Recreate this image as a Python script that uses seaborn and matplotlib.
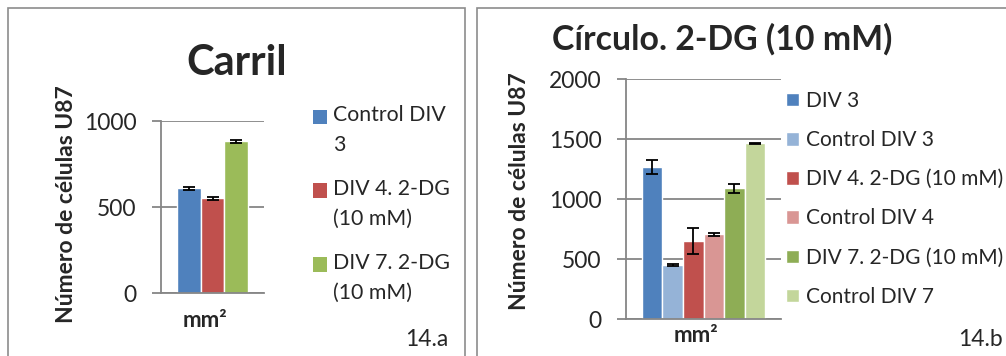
import matplotlib
matplotlib.use("Agg")
import matplotlib.pyplot as plt
from matplotlib.patches import Rectangle
from matplotlib.legend_handler import HandlerPatch
from matplotlib.transforms import ScaledTranslation
import seaborn as sns
import pandas as pd

# ---- data ----
category = ["mm²"]
left_series = ["Control DIV\n3", "DIV 4. 2-DG\n(10 mM)", "DIV 7. 2-DG\n(10 mM)"]
left_values = [609, 551, 882]
left_errors = [8, 9, 8]
left_colors = ["#4F81BD", "#C0504D", "#9BBB59"]

right_series = ["DIV 3", "Control DIV 3", "DIV 4. 2-DG (10 mM)", "Control DIV 4",
                "DIV 7. 2-DG (10 mM)", "Control DIV 7"]
right_values = [1269, 452, 652, 708, 1092, 1467]
right_errors = [56, 5, 110, 10, 38, 3]
right_colors = ["#4F81BD", "#95B3D7", "#C0504D", "#D99694", "#8EAD55", "#C3D69B"]

left_yticks = [0, 500, 1000]
right_yticks = [0, 500, 1000, 1500, 2000]

sns.set_theme(style="white")
plt.rcParams["font.family"] = ["Lato", "DejaVu Sans"]

W, H = 1006, 356
fig = plt.figure(figsize=(W / 100, H / 100), dpi=100)
fig.patch.set_facecolor("white")

GRAY = "#868686"


def px_axes(x0, x1, ytop, ybot):
    return fig.add_axes([x0 / W, (H - ybot) / H, (x1 - x0) / W, (ybot - ytop) / H])


def draw_panel(ax, series, values, errors, colors, yticks, width, ymax, xpad):
    df = pd.DataFrame({"cat": category * len(series), "val": values, "series": series})
    sns.barplot(data=df, x="cat", y="val", hue="series", hue_order=series,
                palette=colors, saturation=1, width=width, gap=0,
                errorbar=None, ax=ax, legend=False)
    bars = ax.patches[:len(series)]
    xs = [b.get_x() + b.get_width() / 2 for b in bars]
    hs = [b.get_height() for b in bars]
    ax.errorbar(xs, hs, yerr=errors, fmt="none", ecolor="black",
                elinewidth=1.3, capsize=4.6, capthick=1.3, zorder=5)
    ax.set_ylim(0, ymax)
    ax.set_xlim(-0.5, 0.5)
    ax.set_yticks(yticks)
    ax.yaxis.grid(True, color=GRAY, linewidth=1.3)
    ax.set_axisbelow(True)
    for s in ["top", "right"]:
        ax.spines[s].set_visible(False)
    for s in ["left", "bottom"]:
        ax.spines[s].set_color(GRAY)
        ax.spines[s].set_linewidth(1.3)
    ax.tick_params(axis="y", direction="out", length=6.5, width=1.3, color=GRAY,
                   labelsize=16.5, pad=11, left=True)
    ax.tick_params(axis="x", length=0, labelsize=16, pad=xpad)
    shift = ScaledTranslation(-8 / 100, 0, fig.dpi_scale_trans)
    for t in ax.get_xticklabels():
        t.set_fontweight("bold")
        t.set_transform(t.get_transform() + shift)
    ax.set_xlabel("")
    ax.set_facecolor("none")
    return bars


class TopHandler(HandlerPatch):
    """Square legend key aligned with the first line of a two-line label."""

    def __init__(self, shift, **kw):
        super().__init__(**kw)
        self.shift = shift

    def create_artists(self, legend, orig_handle, xdescent, ydescent, width,
                       height, fontsize, trans):
        p = Rectangle((-xdescent, -ydescent + self.shift), width, height,
                      facecolor=orig_handle.get_facecolor(), edgecolor="none")
        p.set_transform(trans)
        return [p]


# ---------- left panel ----------
axL = px_axes(161, 264, 121, 293)
barsL = draw_panel(axL, left_series, left_values, left_errors, left_colors,
                   left_yticks, 0.68, 1000, xpad=12)
axL.set_ylabel("Número de células U87", fontsize=16.5, fontweight="bold")
axL.yaxis.label.set_va("center")
axL.yaxis.set_label_coords((66.5 - 161) / 103, (293 - 204) / 172)
axL.set_title("Carril", fontsize=30, fontweight="bold", pad=0,
              x=(236.7 - 161) / 103, y=(293 - 75) / 172, va="baseline")
legL = axL.legend(handles=barsL, labels=left_series, loc="upper left",
                  bbox_to_anchor=(313 / W, 1 - 105 / H), bbox_transform=fig.transFigure,
                  frameon=False, fontsize=15.3, handlelength=0.67, handleheight=0.67,
                  handletextpad=0.29, labelspacing=1.1, borderpad=0, borderaxespad=0,
                  handler_map={Rectangle: TopHandler(shift=10.0)})
for t in legL.get_texts():
    t.set_linespacing(1.65)

# ---------- right panel ----------
axR = px_axes(626, 781, 79.3, 319.3)
barsR = draw_panel(axR, right_series, right_values, right_errors, right_colors,
                   right_yticks, 0.796, 2000, xpad=4)
axR.set_ylabel("Número de células U87", fontsize=16.5, fontweight="bold")
axR.yaxis.label.set_va("center")
axR.yaxis.set_label_coords((519 - 626) / 155, (319.3 - 191.5) / 240)
axR.set_title("Círculo. 2-DG (10 mM)", fontsize=24.4, fontweight="bold", pad=0,
              x=(722 - 626) / 155, y=(319.3 - 49.3) / 240, va="baseline")
axR.legend(handles=barsR, labels=right_series, loc="upper left",
           bbox_to_anchor=(786 / W, 1 - 91 / H), bbox_transform=fig.transFigure,
           frameon=False, fontsize=15, handlelength=0.62, handleheight=0.62,
           handletextpad=0.33, labelspacing=0.92, borderpad=0, borderaxespad=0)

# ---------- panel frames and labels ----------
fig.add_artist(Rectangle((8 / W, -0.1), (465 - 8) / W, 0.1 + (H - 8) / H,
                         transform=fig.transFigure, fill=False, ec="#8c8c8c", lw=1.2))
fig.add_artist(Rectangle((477 / W, -0.1), 0.6, 0.1 + (H - 8) / H,
                         transform=fig.transFigure, fill=False, ec="#8c8c8c", lw=1.2))
fig.text(448 / W, 1 - 340 / H, "14.a", fontsize=16.5, ha="right", va="center")
fig.text(958 / W, 1 - 340 / H, "14.b", fontsize=16.5, ha="left", va="center")

fig.savefig("out.png", dpi=100, facecolor="white")
